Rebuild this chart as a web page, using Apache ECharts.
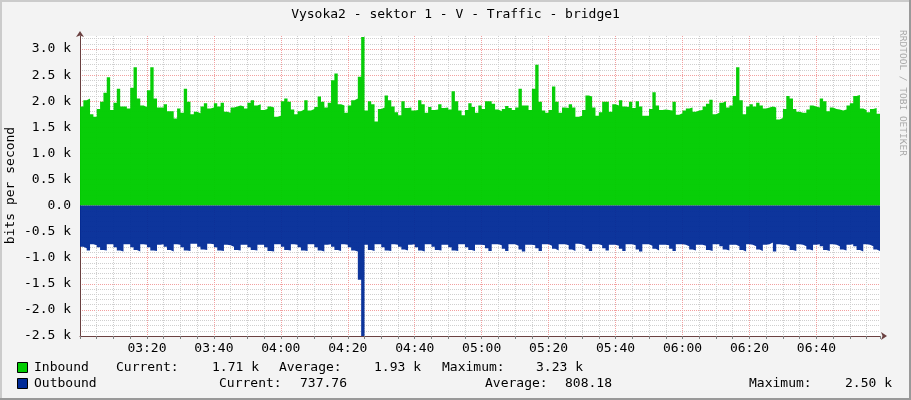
<!DOCTYPE html>
<html>
<head>
<meta charset="utf-8">
<script src="https://cdn.jsdelivr.net/npm/echarts@6/dist/echarts.min.js"></script>
<style>
html,body{margin:0;padding:0;background:#F3F3F3;}
#c{width:911px;height:400px;}
</style>
</head>
<body>
<div id="c"></div>
<script>
// ---- data (k bits/s), one value per minute starting 03:00 ----
const startLabel = '03:00';
const timeLabels = ['03:20','03:40','04:00','04:20','04:40','05:00','05:20','05:40','06:00','06:20','06:40'];

const inboundK = [
1.90,2.02,2.05,1.75,1.70,1.85,1.99,2.16,2.46,1.83,
1.97,2.24,1.90,1.90,1.86,2.26,2.65,2.05,1.92,1.89,
2.21,2.65,2.05,1.88,1.88,1.94,1.81,1.81,1.67,1.86,
1.78,2.24,1.99,1.75,1.80,1.77,1.90,1.96,1.86,1.88,
1.96,1.90,1.97,1.80,1.78,1.88,1.90,1.92,1.90,1.86,
1.97,2.02,1.92,1.94,1.83,1.85,1.90,1.88,1.70,1.72,
2.00,2.05,1.99,1.84,1.75,1.81,1.84,2.02,1.82,1.85,
1.89,2.09,1.99,1.88,1.97,2.40,2.53,1.94,1.92,1.78,
1.92,2.02,2.05,2.47,3.23,1.82,2.00,1.94,1.61,1.85,
1.88,2.11,2.02,1.90,1.79,1.73,2.00,1.87,1.88,1.82,
1.83,2.02,1.94,1.78,1.89,1.83,1.84,1.94,1.87,1.88,
1.84,2.19,2.00,1.82,1.73,1.83,1.96,1.89,1.78,1.92,
1.85,2.00,2.00,1.95,1.84,1.81,1.85,1.91,1.87,1.83,
1.88,2.24,1.92,1.92,1.83,2.24,2.70,1.99,1.82,1.78,
1.83,2.28,1.99,1.78,1.88,1.87,1.94,1.88,1.70,1.72,
1.83,2.11,2.09,1.88,1.72,1.79,1.99,1.99,1.80,1.94,
1.92,2.02,1.90,1.89,1.99,1.87,2.00,1.90,1.72,1.72,
1.85,2.17,1.92,1.83,1.84,1.83,1.82,1.99,1.74,1.77,
1.82,1.86,1.88,1.80,1.82,1.83,1.90,1.95,2.03,1.75,
1.78,1.97,2.00,1.88,1.92,2.10,2.65,2.02,1.75,1.90,
1.94,1.90,1.97,1.92,1.86,1.88,1.90,1.88,1.65,1.68,
1.85,2.10,2.05,1.85,1.80,1.78,1.78,1.84,1.92,1.90,
1.88,2.05,2.00,1.81,1.88,1.85,1.84,1.82,1.84,1.92,
1.96,2.10,2.12,1.86,1.83,1.79,1.85,1.87,1.76,1.71
];

const outboundK = [
0.79,0.82,0.86,0.74,0.76, 0.80,0.85,0.86,0.74,0.74,
0.80,0.86,0.88,0.74,0.74, 0.80,0.85,0.88,0.74,0.75,
0.80,0.86,0.87,0.75,0.74, 0.79,0.85,0.88,0.74,0.75,
0.80,0.86,0.87,0.73,0.73, 0.79,0.84,0.85,0.73,0.74,
0.80,0.86,0.87,0.75,0.76, 0.79,0.85,0.86,0.75,0.75,
0.80,0.85,0.86,0.75,0.75, 0.80,0.87,0.88,0.74,0.74,
0.79,0.85,0.86,0.74,0.75, 0.80,0.86,0.87,0.74,0.74,
0.80,0.86,0.88,0.75,0.74, 0.79,0.85,0.87,0.74,0.75,
0.80,0.86,0.88,1.42,2.50, 0.75,0.85,0.87,0.74,0.74,
0.80,0.86,0.87,0.74,0.75, 0.79,0.84,0.86,0.75,0.74,
0.80,0.86,0.88,0.74,0.74, 0.79,0.85,0.86,0.75,0.75,
0.80,0.86,0.87,0.74,0.74, 0.80,0.85,0.87,0.75,0.75,
0.76,0.82,0.87,0.74,0.74, 0.76,0.83,0.87,0.74,0.74,
0.77,0.84,0.88,0.75,0.75, 0.76,0.82,0.87,0.74,0.74,
0.77,0.83,0.86,0.74,0.74, 0.76,0.84,0.87,0.73,0.74,
0.77,0.83,0.87,0.74,0.74, 0.76,0.82,0.86,0.75,0.75,
0.77,0.83,0.87,0.74,0.74, 0.76,0.84,0.88,0.74,0.74,
0.77,0.83,0.86,0.75,0.75, 0.76,0.83,0.87,0.74,0.74,
0.75,0.78,0.84,0.86,0.75, 0.75,0.77,0.85,0.87,0.74,
0.74,0.78,0.84,0.86,0.75, 0.75,0.78,0.85,0.88,0.74,
0.75,0.78,0.84,0.87,0.75, 0.74,0.71,0.88,0.74,0.75,
0.75,0.78,0.85,0.87,0.74, 0.75,0.78,0.84,0.86,0.75,
0.74,0.78,0.85,0.87,0.74, 0.75,0.78,0.84,0.86,0.75,
0.74,0.78,0.85,0.88,0.74, 0.75,0.78,0.84,0.87,0.738
];

const legendNames = ['Inbound','Outbound'];
const inboundStats = ['1.71 k','1.93 k','3.23 k'];
const outboundStats = ['737.76','808.18','2.50 k'];
const colors = {inb:'#00CC00', outb:'#002A97'};

// ---- chart ----
const chart = echarts.init(document.getElementById('c'), null, {renderer:'canvas'});
const MONO = "'DejaVu Sans Mono', monospace";
function txt(x, y, s, extra){
  return {type:'text', x:x, y:y, silent:true,
    style: Object.assign({text:s, font:"13px 'DejaVu Sans Mono'", fill:'#000', textVerticalAlign:'middle'}, extra||{})};
}
const MIN_GRID = '#cfcfcf', MAJ_GRID = '#f2a0a0';

const graphics = [
  // frame
  {type:'rect', shape:{x:0,y:0,width:911,height:2}, style:{fill:'#CBCBCB'}, silent:true},
  {type:'rect', shape:{x:0,y:0,width:2,height:400}, style:{fill:'#CBCBCB'}, silent:true},
  {type:'rect', shape:{x:0,y:398,width:911,height:2}, style:{fill:'#999999'}, silent:true},
  {type:'rect', shape:{x:909,y:0,width:2,height:400}, style:{fill:'#999999'}, silent:true},
  // title
  txt(455.5, 15, 'Vysoka2 - sektor 1 - V - Traffic - bridge1', {textAlign:'center'}),
  // y name
  Object.assign(txt(11, 185.5, 'bits per second', {textAlign:'center'}), {rotation: Math.PI/2}),
  // credits
  {type:'text', x:902, y:93, rotation:-Math.PI/2, silent:true,
    style:{text:'RRDTOOL / TOBI OETIKER', font:"9.5px 'DejaVu Sans Mono'", fill:'#a8a8a8', textAlign:'center', textVerticalAlign:'middle'}},
  // legend squares
  {type:'rect', shape:{x:17.5,y:362.5,width:10,height:10}, style:{fill:colors.inb, stroke:'#000', lineWidth:1}, silent:true},
  {type:'rect', shape:{x:17.5,y:378.5,width:10,height:10}, style:{fill:colors.outb, stroke:'#000', lineWidth:1}, silent:true},
  txt(34, 368, legendNames[0]),
  txt(116, 368, 'Current:'),
  txt(259, 368, inboundStats[0], {textAlign:'right'}),
  txt(279, 368, 'Average:'),
  txt(421, 368, inboundStats[1], {textAlign:'right'}),
  txt(442, 368, 'Maximum:'),
  txt(583, 368, inboundStats[2], {textAlign:'right'}),
  txt(34, 384, legendNames[1]),
  txt(219, 384, 'Current:'),
  txt(347, 384, outboundStats[0], {textAlign:'right'}),
  txt(485, 384, 'Average:'),
  txt(612, 384, outboundStats[1], {textAlign:'right'}),
  txt(749, 384, 'Maximum:'),
  txt(892, 384, outboundStats[2], {textAlign:'right'})
];

const option = {
  animation: false,
  backgroundColor: '#F3F3F3',
  grid: {left: 80, right: 31, top: 36, bottom: 64, show: true, backgroundColor: '#FFFFFF', borderWidth: 0},
  xAxis: {
    type: 'value', min: 0, max: 239, interval: 5,
    axisLine: {onZero: false, lineStyle: {color: '#6a4040', width: 1}, symbol: ['none','arrow'], symbolSize: [6, 6], symbolOffset: [0, 7]},
    axisTick: {show: true, length: 3, lineStyle: {color: '#808080'}},
    axisLabel: {
      color: '#000', fontFamily: MONO, fontSize: 13, margin: 6,
      formatter: function(v){
        if (v % 20 !== 0 || v <= 0 || v >= 240) return '';
        return timeLabels[v/20 - 1];
      }
    },
    splitLine: {show: true, showMinLine: false, showMaxLine: false,
      lineStyle: {color: [MIN_GRID, MIN_GRID, MIN_GRID, MAJ_GRID], type: [1,1], width: 1}}
  },
  yAxis: {
    type: 'value', min: -2500, max: 3250, interval: 100,
    axisLine: {show: true, onZero: false, lineStyle: {color: '#6a4040', width: 1}, symbol: ['none','arrow'], symbolSize: [6, 6], symbolOffset: [0, 5]},
    axisTick: {show: false},
    axisLabel: {
      color: '#000', fontFamily: MONO, fontSize: 13, margin: 9,
      formatter: function(v){
        if (Math.round(v) % 500 !== 0) return '';
        const s = (v/1000).toFixed(1);
        return v === 0 ? s : s + ' k';
      }
    },
    splitLine: {show: true, showMaxLine: false,
      lineStyle: {color: [MAJ_GRID, MIN_GRID, MIN_GRID, MIN_GRID, MIN_GRID], type: [1,1], width: 1}}
  },
  series: [
    {
      name: legendNames[0], type: 'line', step: 'end', showSymbol: false, silent: true,
      data: inboundK.map(function(v, i){ return [i, v*1000]; }),
      lineStyle: {width: 0}, areaStyle: {color: colors.inb, opacity: 0.97}, z: 2
    },
    {
      name: legendNames[1], type: 'line', step: 'end', showSymbol: false, silent: true,
      data: outboundK.map(function(v, i){ return [i, -v*1000]; }),
      lineStyle: {width: 0}, areaStyle: {color: colors.outb, opacity: 0.95}, z: 2
    }
  ],
  graphic: graphics
};
chart.setOption(option);
</script>
</body>
</html>
